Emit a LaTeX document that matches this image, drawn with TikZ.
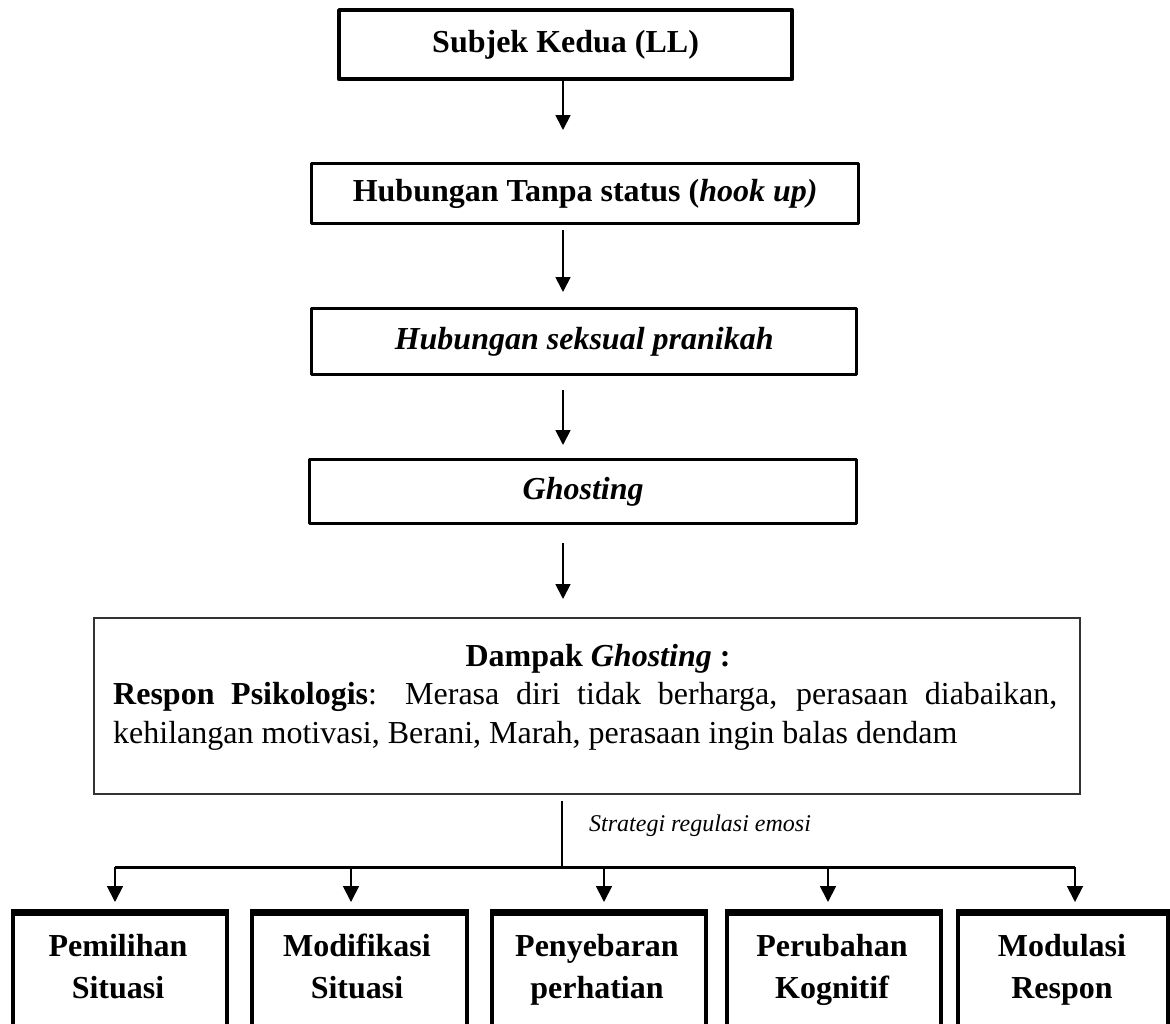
\documentclass[tikz,border=0pt]{standalone}
\usepackage{fontspec}
\setmainfont{Liberation Serif}
\usetikzlibrary{arrows.meta}
\begin{document}
\begin{tikzpicture}[x=1pt,y=-1pt,
  bigfont/.style={font=\fontsize{32}{38}\selectfont},
  flowbox/.style={draw, line width=3.4pt, line join=round, inner sep=0pt,
    anchor=north west, font=\fontsize{32}{38}\selectfont\bfseries},
  botbox/.style={draw, line width=3.8pt, line join=round, inner sep=0pt,
    anchor=north west, minimum height=200pt},
  bottext/.style={align=center, anchor=north, inner sep=0pt,
    font=\fontsize{32}{42}\selectfont\bfseries},
  shaft/.style={line width=1.8pt},
  arr/.style={line width=1.8pt, -{Triangle[width=15pt,length=15pt]}},
  barr/.style={line width=1.8pt, -{Triangle[width=16pt,length=16pt]}}
]
\clip (0,0) rectangle (1170,1023);
\fill[white] (0,0) rectangle (1170,1023);

% vertical chain of events
\node[flowbox, line width=4.2pt, minimum width=453pt, minimum height=69pt] (b1) at (337,8) {Subjek Kedua (LL)};
\node[flowbox, minimum width=547pt, minimum height=60pt] (b2) at (310,162) {Hubungan Tanpa status (\textit{hook up)}};
\node[flowbox, minimum width=545pt, minimum height=66pt] (b3) at (310,307) {\itshape Hubungan seksual pranikah};
\node[flowbox, minimum width=547pt, minimum height=64pt] (b4) at (308,458) {\itshape Ghosting};

\coordinate (t1) at (563,130);
\coordinate (t2) at (563,292);
\coordinate (t3) at (563,445);
\coordinate (t4) at (563,599);
\draw[arr] (t1 |- b1.south) -- (t1);
\draw[arr, shorten <=5pt] (t2 |- b2.south) -- (t2);
\draw[arr, shorten <=14pt] (t3 |- b3.south) -- (t3);
\draw[arr, shorten <=18pt] (t4 |- b4.south) -- (t4);

% impact box
\node[draw=black!80, line width=1.5pt, anchor=north west, inner sep=0pt,
  minimum width=986pt, minimum height=176pt] (impact) at (93,617) {};
\node[anchor=base, inner sep=0pt, font=\fontsize{32}{38}\selectfont\bfseries] (imphead) at (598,666) {Dampak \textit{Ghosting} :};
\node[bigfont, anchor=base west, inner sep=0pt] (impline1) at (113,704)
  {\makebox[944pt][s]{\textbf{Respon Psikologis}: Merasa diri tidak berharga, perasaan diabaikan,}};
\node[bigfont, anchor=base west, inner sep=0pt] (impline2) at (113,743)
  {kehilangan motivasi, Berani, Marah, perasaan ingin balas dendam};

% strategy branches
\coordinate (hub) at (562,867);
\draw[shaft, shorten <=6pt] (impact.south -| hub) -- (hub);
\node[anchor=base west, inner sep=0pt, font=\fontsize{24}{28}\selectfont\itshape] (strat) at (589,831) {Strategi regulasi emosi};

\coordinate (d1) at (115,867);
\coordinate (d2) at (351,867);
\coordinate (d3) at (604,867);
\coordinate (d4) at (828,867);
\coordinate (d5) at (1075,867);
\draw[line width=3pt] (d1) -- (d5);

\node[botbox, minimum width=214pt] (s1) at (11,912) {};
\node[botbox, minimum width=215pt] (s2) at (250,912) {};
\node[botbox, minimum width=214pt] (s3) at (490,912) {};
\node[botbox, minimum width=214pt] (s4) at (725,912) {};
\node[botbox, minimum width=210pt] (s5) at (956,912) {};

\foreach \i in {1,...,5} {
  % heavier top edge of each strategy box
  \draw[line width=5.5pt] (s\i.north west) -- (s\i.north east);
  \coordinate (e\i) at ([yshift=10pt]d\i |- s\i.north);
  \draw[barr] (d\i) -- (e\i);
}

\node[bottext] (s1t) at (118,934) {Pemilihan\\Situasi};
\node[bottext] (s2t) at (357,934) {Modifikasi\\Situasi};
\node[bottext] (s3t) at (597,934) {Penyebaran\\perhatian};
\node[bottext] (s4t) at (832,934) {Perubahan\\Kognitif};
\node[bottext] (s5t) at (1062,934) {Modulasi\\Respon};
\end{tikzpicture}
\end{document}
